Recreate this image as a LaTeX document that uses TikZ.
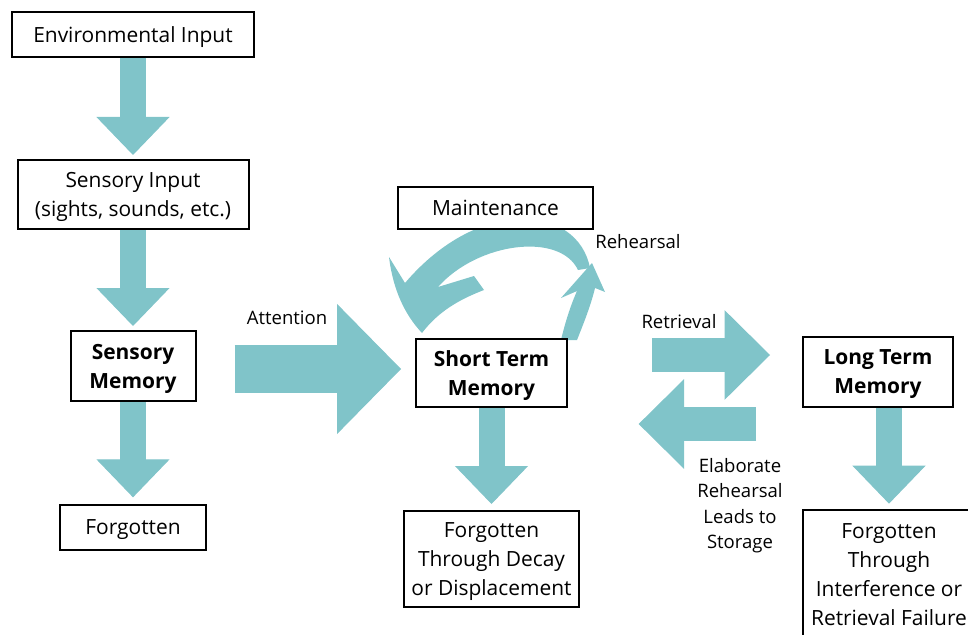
\documentclass[tikz,border=0pt]{standalone}
\usepackage{fontspec}
\setmainfont{Open Sans}
\usetikzlibrary{arrows.meta}
\definecolor{recall}{HTML}{80C4C9}

\begin{document}
\begin{tikzpicture}[x=0.75pt, y=-0.75pt,
        box/.style={draw=black, line width=1.5pt, fill=white, align=center, inner sep=0pt,
                    text depth=0pt, font=\fontsize{15.7}{21.75}\selectfont},
        bbox/.style={box, font=\fontsize{15.7}{21.75}\selectfont\bfseries},
        lbl/.style={align=center, inner sep=0pt, font=\fontsize{13.9}{19.1}\selectfont},
        dflow/.style={recall, line width=19.5pt,
                      -{Triangle[width=54.75pt, length=28.5pt, line width=0.8pt]}},
        bigflow/.style={recall, line width=36pt,
                        -{Triangle[width=97.5pt, length=48pt, line width=0.8pt]}},
        sideflow/.style={recall, line width=25pt,
                         -{Triangle[width=67pt, length=34pt, line width=0.8pt]}},
    ]
    \useasboundingbox (0,0) rectangle (968,635);
    \clip (0,0) rectangle (968,635);

    % rehearsal loop over short term memory
    \fill[recall] (590,268) .. controls (578,205) and (480,195) .. (405,283)
        -- (389,257) .. controls (393,290) and (405,315) .. (422,333)
        .. controls (438,312) and (458,300) .. (484,290) -- (474,276)
        -- (438,287) .. controls (478,242) and (560,232) .. (578,270) -- cycle;
    \fill[recall] (561,340) .. controls (567,315) and (573,300) .. (577,291)
        -- (561,298) -- (592,263) -- (605,292) -- (595,288)
        .. controls (591,305) and (583,325) .. (577,340) -- cycle;

    \node[box, minimum width=181.5pt, minimum height=33.75pt] (env) at (133,34.5) {Environmental Input};
    \node[box, minimum width=173.25pt, minimum height=51.75pt] (sinput) at (133,194.5) {Sensory Input\\(sights, sounds, etc.)};
    \node[bbox, minimum width=93.75pt, minimum height=52.5pt] (smem) at (133,366) {Sensory\\Memory};
    \node[box, minimum width=109.5pt, minimum height=33.75pt] (forgot) at (133,527.5) {Forgotten};

    \node[box, minimum width=146.25pt, minimum height=31.5pt] (maint) at (495.5,208) {Maintenance};
    \node[bbox, minimum width=113.25pt, minimum height=51pt] (stm) at (491.5,373) {Short Term\\Memory};
    \node[box, minimum width=131.25pt, minimum height=72pt] (decay) at (491.5,559) {Forgotten\\Through Decay\\or Displacement};

    \node[bbox, minimum width=112.5pt, minimum height=52.5pt] (ltm) at (878,372) {Long Term\\Memory};
    \node[box, minimum width=129pt, minimum height=97.5pt] (interf) at (889,575) {Forgotten\\Through\\Interference or\\Retrieval Failure};

    \node[lbl] (att) at (287,317.5) {Attention};
    \node[lbl] (reh) at (638,241.5) {Rehearsal};
    \node[lbl] (retr) at (679,321.5) {Retrieval};
    \node[lbl] (elab) at (740,505.5) {Elaborate\\Rehearsal\\Leads to\\Storage};

    % flow between the stores
    \draw[dflow, shorten >=3pt] (env) -- (sinput);
    \draw[dflow, shorten >=3pt] (sinput) -- (smem);
    \draw[dflow, shorten >=5pt] (smem) -- (forgot);
    \draw[dflow, shorten >=4.5pt] (stm) -- (decay);
    \draw[dflow, shorten >=4pt] (ltm.south -| interf.north) -- (interf.north);
    \draw[bigflow, shorten <=28.5pt, shorten >=10.5pt]
        ([yshift=3pt]stm.west -| smem.east) -- ([yshift=3pt]stm.west);
    \draw[sideflow, shorten <=63pt, shorten >=24pt]
        ([yshift=13.5pt]stm.east) -- ([yshift=13.5pt]stm.east -| ltm.west);
    \draw[sideflow, shorten <=34.5pt, shorten >=53pt]
        ([yshift=-38.25pt]stm.east -| ltm.west) -- ([yshift=-38.25pt]stm.east);
\end{tikzpicture}
\end{document}
